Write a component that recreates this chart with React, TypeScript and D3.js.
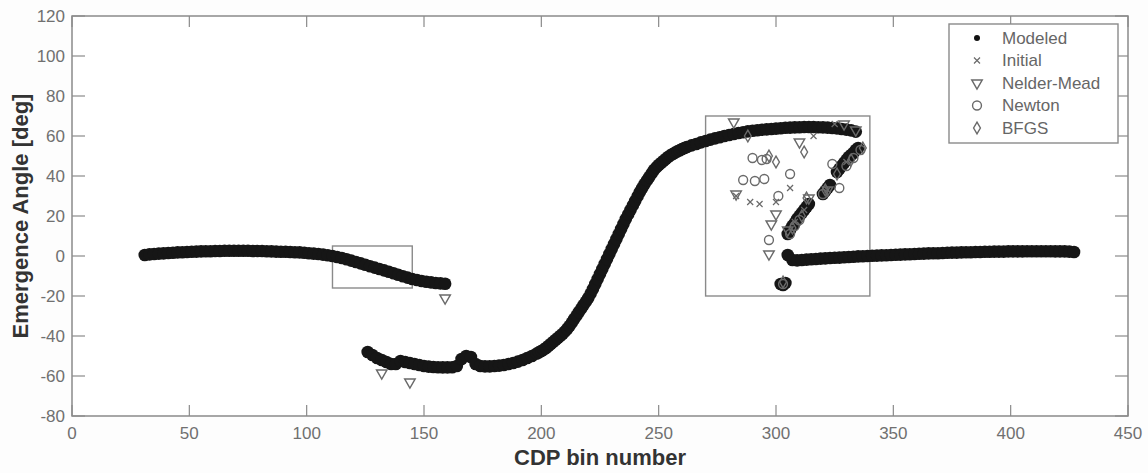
import React from "react";
import * as d3 from "d3";

// axis ticks
const xTicks = [0, 50, 100, 150, 200, 250, 300, 350, 400, 450];
const yTicks = [-80, -60, -40, -20, 0, 20, 40, 60, 80, 100, 120];

// modeled emergence angle (start bin, bin step, values)
const seg1Start = 31;
const seg1 = [
  0.5, 0.8, 1.0, 1.2, 1.3, 1.5, 1.6, 1.8, 1.9, 2.0,
  2.1, 2.2, 2.3, 2.4, 2.4, 2.5, 2.5, 2.6, 2.6, 2.6,
  2.6, 2.6, 2.6, 2.5, 2.5, 2.5, 2.4, 2.3, 2.2, 2.1,
  2.1, 2.0, 1.9, 1.8, 1.6, 1.4, 1.2, 1.0, 0.7, 0.4,
  0.0, -0.5, -1.0, -1.6, -2.3, -3.0, -3.7, -4.4, -5.1, -5.8,
  -6.5, -7.2, -7.9, -8.6, -9.4, -10.1, -10.8, -11.5, -12.0, -12.5,
  -12.9, -13.2, -13.5, -13.7, -13.9,
];
// second branch: trough, every 2 bins
const seg2aStart = 126;
const seg2a = [
  -48, -49.5, -51, -52, -53, -54, -54, -52.5, -53, -53.5,
  -54, -54.5, -55, -55.3, -55.5, -55.6, -55.7, -55.7, -55.6, -55,
  -51.5, -50, -50.5, -54, -55, -55.2, -55.2, -55, -54.8, -54.5,
  -54, -53.5, -52.8, -52, -51, -50, -48.8,
];
// second branch: steep rise, every bin
const seg2bStart = 199;
const seg2b = [
  -48.2, -47.5, -46.8, -46, -45, -44, -43, -42, -41, -40,
  -39, -37.8, -36.5, -35, -33.3, -31.5, -29.8, -28, -26.3, -24.5,
  -22.8, -21, -18.8, -16.5, -14, -11.5, -9, -6.5, -4, -1.5,
  1, 3.5, 6, 8.5, 11, 13.5, 16, 18.5, 20.8, 23,
  25.3, 27.5, 29.8, 32, 34, 36, 37.8, 39.5, 41.3, 43,
  44.3, 45.5, 46.5, 47.5, 48.5, 49.5, 50.3, 51, 51.7, 52.3,
  52.9, 53.5, 54, 54.5,
];
// second branch: plateau, every 2 bins
const seg2cStart = 264;
const seg2c = [
  55.3, 56, 56.8, 57.5, 58.2, 58.8, 59.4, 60, 60.5, 61,
  61.5, 61.9, 62.3, 62.6, 62.9, 63.1, 63.3, 63.5, 63.7, 63.9,
  64.1, 64.2, 64.3, 64.4, 64.5, 64.5, 64.5, 64.4, 64.3, 64.2,
  64, 63.8, 63.5, 63.2, 62.8, 62.2,
];
const seg3Start = 305;
const seg3 = [
  0.5, -2.0, -2.2, -2.0, -1.8, -1.6, -1.5, -1.3, -1.2, -1.0,
  -0.9, -0.8, -0.6, -0.5, -0.4, -0.2, -0.1, 0.0, 0.1, 0.2,
  0.3, 0.4, 0.5, 0.6, 0.7, 0.8, 0.9, 1.0, 1.1, 1.2,
  1.3, 1.4, 1.4, 1.5, 1.6, 1.7, 1.7, 1.8, 1.9, 1.9,
  2.0, 2.0, 2.1, 2.1, 2.2, 2.2, 2.2, 2.3, 2.3, 2.3,
  2.3, 2.4, 2.4, 2.4, 2.4, 2.4, 2.4, 2.3, 2.3, 2.3,
  2.2, 2.0,
];
// modeled points off the main curve inside the right box
const modeledScatter: [number, number][] = [
  [302, -14], [303, -14.5], [304, -13.5],
  [305, 11], [306, 13], [307, 15], [308, 16.5], [309, 18.5], [310, 20],
  [311, 21.5], [312, 23], [313, 24.5], [314, 26],
  [320, 31], [321, 32.5], [322, 34], [323, 35.5],
  [326, 42], [327, 43.5], [328, 45], [329, 46.5], [330, 48], [331, 49.5],
  [332, 50.5], [333, 51.5], [334, 53], [335, 54],
];

// inverted solutions that differ from the modeled curve
const initialPts: [number, number][] = [
  [283, 30], [289, 27], [306, 34], [293, 26], [300, 27], [316, 60],
  [325, 66], [308, 17], [312, 23], [322, 33], [330, 47],
];
const nelderPts: [number, number][] = [
  [159, -21], [132, -58.5], [144, -63], [282, 67], [310, 57], [283, 31],
  [300, 21], [298, 16], [297, 1], [314, 29], [305, 13], [322, 33],
  [329, 66], [334, 63],
];
const newtonPts: [number, number][] = [
  [290, 49], [294, 48], [296, 48.5], [306, 41], [286, 38], [291, 37.5],
  [295, 38.5], [301, 30], [297, 8], [324, 46], [327, 34], [303, -14],
  [306, 11], [308, 15], [310, 18], [320, 31], [330, 45], [333, 49], [336, 53],
];
const bfgsPts: [number, number][] = [
  [312, 52], [297, 50], [303, -13], [313, 29], [307, 14], [311, 20],
  [321, 33], [326, 41], [332, 48], [337, 54], [288, 60], [300, 47],
];

const zoomBoxes = [
  { x0: 111, x1: 145, y0: -16, y1: 5 },
  { x0: 270, x1: 340, y0: -20, y1: 70 },
];

const legendLabels = ["Modeled", "Initial", "Nelder-Mead", "Newton", "BFGS"];

const W = 1148;
const H = 473;
const plot = { left: 72, right: 1128, top: 16, bottom: 416 };
const font = "'Liberation Sans', Arial, sans-serif";
const axisGray = "#8a8a8a";
const markGray = "#6a6a6a";

const x = d3.scaleLinear().domain([0, 450]).range([plot.left, plot.right]);
const y = d3.scaleLinear().domain([-80, 120]).range([plot.bottom, plot.top]);

const triPath = d3.symbol().type(d3.symbolTriangle).size(48)() || "";
const circlePath = d3.symbol().type(d3.symbolCircle).size(62)() || "";
const diamondPath = d3.symbol().type(d3.symbolDiamond).size(40)() || "";
const xPath = "M-3,-3L3,3M-3,3L3,-3";

function segPoints(start: number, step: number, vals: number[]): [number, number][] {
  return vals.map((v, i) => [start + i * step, v]);
}

const modeledPts: [number, number][] = [
  ...segPoints(seg1Start, 2, seg1),
  ...segPoints(seg2aStart, 2, seg2a),
  ...segPoints(seg2bStart, 1, seg2b),
  ...segPoints(seg2cStart, 2, seg2c),
  ...segPoints(seg3Start, 2, seg3),
  ...modeledScatter,
];

function Marker({ kind, cx, cy }: { kind: number; cx: number; cy: number }) {
  const t = `translate(${cx},${cy})`;
  if (kind === 0) return <circle cx={cx} cy={cy} r={3} fill="#111" />;
  if (kind === 1)
    return <path d={xPath} transform={t} stroke={markGray} strokeWidth={1.2} fill="none" />;
  if (kind === 2)
    return (
      <path d={triPath} transform={`${t} rotate(180)`} stroke={markGray} strokeWidth={1.4} fill="none" />
    );
  if (kind === 3)
    return <path d={circlePath} transform={t} stroke={markGray} strokeWidth={1.4} fill="none" />;
  return <path d={diamondPath} transform={t} stroke={markGray} strokeWidth={1.4} fill="none" />;
}

export default function App() {
  const series: [number, [number, number][]][] = [
    [1, initialPts],
    [2, nelderPts],
    [3, newtonPts],
    [4, bfgsPts],
  ];
  const legend = { x: 949, y: 24, w: 169, h: 119 };

  return (
    <svg
      width={W}
      height={H}
      style={{ position: "absolute", left: 0, top: 0, background: "#fff" }}
    >
      <rect x={0} y={0} width={W} height={H} fill="#fdfdfd" />
      <rect
        x={plot.left}
        y={plot.top}
        width={plot.right - plot.left}
        height={plot.bottom - plot.top}
        fill="#fff"
      />

      {/* zoom boxes */}
      {zoomBoxes.map((b, i) => (
        <rect
          key={i}
          x={x(b.x0)}
          y={y(b.y1)}
          width={x(b.x1) - x(b.x0)}
          height={y(b.y0) - y(b.y1)}
          fill="none"
          stroke={axisGray}
          strokeWidth={1.4}
        />
      ))}

      {/* modeled dense curve */}
      {modeledPts.map(([b, v], i) => (
        <circle key={i} cx={x(b)} cy={y(v)} r={6.3} fill="#161616" />
      ))}

      {/* solver results */}
      {series.map(([kind, pts]) =>
        pts.map(([b, v], i) => <Marker key={`${kind}-${i}`} kind={kind} cx={x(b)} cy={y(v)} />)
      )}

      {/* axes frame and ticks */}
      <rect
        x={plot.left}
        y={plot.top}
        width={plot.right - plot.left}
        height={plot.bottom - plot.top}
        fill="none"
        stroke={axisGray}
        strokeWidth={1.5}
      />
      {xTicks.map((t) => (
        <g key={`x${t}`}>
          <line x1={x(t)} x2={x(t)} y1={plot.bottom} y2={plot.bottom - 11} stroke={axisGray} strokeWidth={1.2} />
          <line x1={x(t)} x2={x(t)} y1={plot.top} y2={plot.top + 11} stroke={axisGray} strokeWidth={1.2} />
          <text
            x={x(t)}
            y={439}
            textAnchor="middle"
            fontFamily={font}
            fontSize={17}
            fill="#707070"
          >
            {t}
          </text>
        </g>
      ))}
      {yTicks.map((t) => (
        <g key={`y${t}`}>
          <line x1={plot.left} x2={plot.left + 13} y1={y(t)} y2={y(t)} stroke={axisGray} strokeWidth={1.2} />
          <line x1={plot.right} x2={plot.right - 13} y1={y(t)} y2={y(t)} stroke={axisGray} strokeWidth={1.2} />
          <text
            x={65}
            y={y(t)}
            dy="0.35em"
            textAnchor="end"
            fontFamily={font}
            fontSize={17}
            fill="#707070"
          >
            {t}
          </text>
        </g>
      ))}

      {/* axis titles */}
      <text
        x={(plot.left + plot.right) / 2}
        y={465}
        textAnchor="middle"
        fontFamily={font}
        fontSize={22}
        fontWeight="bold"
        fill="#333"
      >
        CDP bin number
      </text>
      <text
        transform={`translate(28,${(plot.top + plot.bottom) / 2}) rotate(-90)`}
        textAnchor="middle"
        fontFamily={font}
        fontSize={22}
        fontWeight="bold"
        fill="#333"
      >
        Emergence Angle [deg]
      </text>

      {/* legend */}
      <rect
        x={legend.x}
        y={legend.y}
        width={legend.w}
        height={legend.h}
        fill="#fff"
        stroke={axisGray}
        strokeWidth={1.4}
      />
      {legendLabels.map((label, i) => {
        const ly = 38 + i * 22.5;
        return (
          <g key={label}>
            <Marker kind={i} cx={977} cy={ly} />
            <text x={1002} y={ly} dy="0.35em" fontFamily={font} fontSize={17} fill="#666">
              {label}
            </text>
          </g>
        );
      })}
    </svg>
  );
}
